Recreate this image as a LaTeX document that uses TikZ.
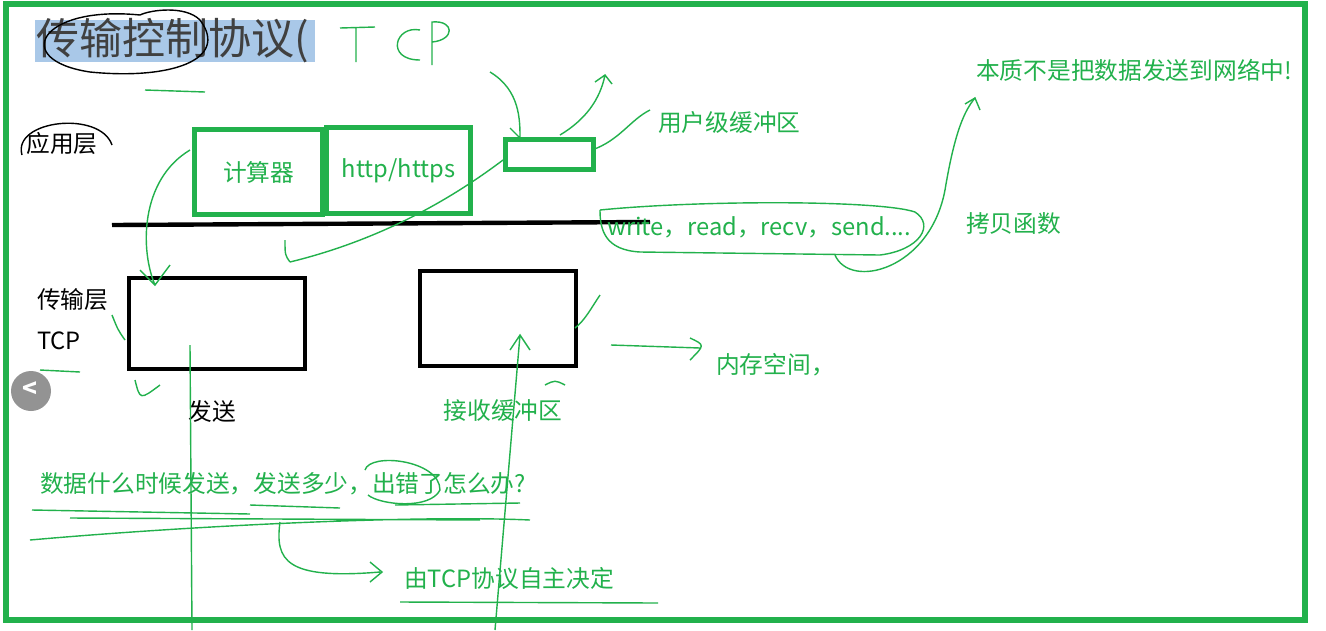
\documentclass[tikz,border=0pt]{standalone}
\usepackage{fontspec}
\setmainfont{Noto Sans CJK SC}
\usetikzlibrary{positioning}
\definecolor{pen}{HTML}{22B14C}
\definecolor{hilite}{HTML}{A9C8E8}
\tikzset{
  gtext/.style={text=pen, font=\fontsize{13.5}{15}\selectfont},
  btext/.style={text=black, font=\fontsize{13.5}{15}\selectfont},
  gbox/.style={draw=pen, line width=3pt},
  bbox/.style={draw=black, line width=2.5pt},
  stroke/.style={draw=pen, line width=0.8pt},
}
\begin{document}
\begin{tikzpicture}[x=0.02cm, y=-0.02cm]
  \useasboundingbox (0,0) rectangle (1326,630);
  \fill[white] (0,0) rectangle (1326,630);
  % frame
  \draw[pen, line width=3pt] (6,4) rectangle (1305,620);

  % title
  \fill[hilite] (35,20) rectangle (315,62);
  \node[font=\fontsize{24.5}{26}\selectfont, text=black!75, anchor=west, inner sep=0pt] (title) at (36,41) {传输控制协议(};
  \draw[black, line width=0.8pt] (140,15) .. controls (40,5) and (10,60) .. (90,72)
        .. controls (170,80) and (230,60) .. (200,20) .. controls (185,5) and (150,10) .. (140,15);
  \draw[pen, line width=0.8pt] (145,90) -- (205,92);
  \draw[pen, line width=0.8pt] (340,28) -- (375,27) (356,27) -- (356,62)
        (420,30) .. controls (395,25) and (385,60) .. (420,60)
        (432,65) -- (432,22) .. controls (455,20) and (455,40) .. (432,42);

  % application layer
  \node[btext] (app) at (62,143) {应用层};
  \draw[black, line width=0.8pt] (22,155) .. controls (12,120) and (100,110) .. (112,145);
  \node[gbox, minimum width=128*0.02cm, minimum height=85*0.02cm, anchor=north west] (calc) at (192,127) {};
  \node[gtext] at (calc.center) {计算器};
  \node[gbox, minimum width=144*0.02cm, minimum height=86*0.02cm, anchor=north west] (http) at (324,125) {};
  \node[gtext] at (http.center) {http/https};
  \node[gbox, minimum width=88*0.02cm, minimum height=30*0.02cm, anchor=north west] (ubuf) at (503,137) {};
  \node[gtext, anchor=west] (ulabel) at (652,122) {用户级缓冲区};
  \node[gtext, anchor=west] (essence) at (970,70) {本质不是把数据发送到网络中!};

  % layer line
  \draw[black, line width=2.5pt] (112,225) -- (650,222);
  \node[gtext, anchor=west] (copyfn) at (601,227) {write，read，recv，send....};
  \node[gtext, anchor=west] (copylbl) at (960,224) {拷贝函数};
  \draw[stroke] (600,210) .. controls (700,200) and (880,200) .. (915,212)
        .. controls (935,225) and (920,250) .. (880,255) -- (640,252) .. controls (605,250) and (600,230) .. (600,210);
  \draw[stroke] (835,255) .. controls (850,290) and (930,270) .. (945,190) .. controls (955,130) and (965,110) .. (975,98);
  \draw[stroke] (965,104) -- (975,98) -- (980,110);

  % transport layer
  \node[btext, anchor=west] (trans) at (31,300) {传输层};
  \node[btext, anchor=west] (tcp) at (31,341) {TCP};
  \node[bbox, minimum width=176*0.02cm, minimum height=91*0.02cm, anchor=north west] (sendbuf) at (127,276) {};
  \node[bbox, minimum width=156*0.02cm, minimum height=95*0.02cm, anchor=north west] (recvbuf) at (418,269) {};
  \node[btext] (sendlbl) at (212,411) {发送};
  \node[gtext] (recvlbl) at (503,411) {接收缓冲区};
  \node[gtext, anchor=west] (mem) at (710,365) {内存空间，};
  \draw[stroke] (611,345) -- (700,348) (690,338) .. controls (705,345) .. (690,360);

  % questions
  \node[gtext, anchor=west] (q) at (34,484) {数据什么时候发送，发送多少，出错了怎么办?};
  \node[gtext, anchor=west] (ans) at (398,578) {由TCP协议自主决定};
  \draw[stroke] (365,470) .. controls (370,452) and (440,460) .. (440,490) .. controls (430,510) and (380,505) .. (368,495);
  \draw[stroke] (32,510) -- (250,514) (70,518) -- (480,520) (30,540) .. controls (200,525) and (420,515) .. (530,520)
        (250,505) -- (340,508) (395,505) -- (520,503) (400,602) -- (658,603);
  \draw[stroke] (280,522) .. controls (275,560) and (285,580) .. (380,572) (370,562) -- (382,572) -- (370,582);

  % green sketch arrows
  \draw[stroke] (190,150) .. controls (140,180) and (140,250) .. (155,285) (140,270) -- (155,285) -- (170,265);
  \draw[stroke] (503,160) .. controls (450,200) and (380,240) .. (290,262) (285,240) .. controls (285,255) .. (290,262);
  \draw[stroke] (490,72) .. controls (520,90) and (520,120) .. (520,138) (510,128) -- (520,138);
  \draw[stroke] (560,135) .. controls (585,120) and (600,100) .. (605,75) (595,82) -- (605,75) -- (612,84);
  \draw[stroke] (592,150) .. controls (620,140) and (630,120) .. (650,110);
  \draw[stroke] (190,345) -- (192,630) (520,335) -- (495,630) (510,350) -- (520,335) -- (530,350);
  \draw[stroke] (600,295) .. controls (590,310) and (585,320) .. (575,328);
  \draw[stroke] (112,315) .. controls (118,330) .. (125,340) (40,370) -- (80,372);
  \draw[stroke] (135,380) .. controls (140,400) .. (160,385);
  \draw[stroke] (545,385) .. controls (555,380) .. (565,385);

  % nav button
  \fill[gray!85] (31,391) circle (20);
  \node[text=white, font=\bfseries\fontsize{14}{14}\selectfont] (nav) at (30,390) {<};
\end{tikzpicture}
\end{document}
